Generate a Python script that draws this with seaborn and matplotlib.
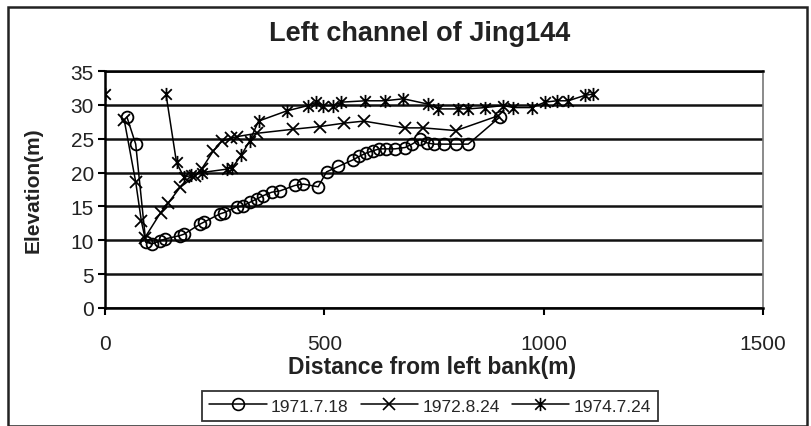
import numpy as np
import pandas as pd
import matplotlib
matplotlib.use("Agg")
import matplotlib.pyplot as plt
from matplotlib.path import Path
from matplotlib.lines import Line2D
from matplotlib.patches import Rectangle
import seaborn as sns

# ---------------- data ----------------
title = "Left channel of Jing144"
xlabel = "Distance from left bank(m)"
ylabel = "Elevation(m)"
series_names = ["1971.7.18", "1972.8.24", "1974.7.24"]

s1971_x = [50, 70, 93, 108, 125, 137, 171, 180, 217, 226, 262, 272, 300, 315, 330, 346, 361,
           380, 399, 433, 452, 486, 505, 532, 566, 580, 596, 610, 625, 640, 661, 684, 700,
           718, 733, 750, 772, 800, 828, 900]
s1971_y = [28.2, 24.2, 9.7, 9.5, 9.9, 10.2, 10.7, 10.9, 12.4, 12.7, 13.9, 14.1, 14.9, 15.1,
           15.6, 16.1, 16.6, 17.1, 17.3, 18.1, 18.3, 17.9, 20.1, 20.9, 21.9, 22.4, 22.9, 23.2,
           23.5, 23.5, 23.5, 23.7, 24.2, 24.9, 24.4, 24.2, 24.2, 24.2, 24.2, 28.2]

s1972_x = [44, 70, 83, 91, 127, 144, 171, 205, 220, 247, 266, 288, 300, 346, 429, 490, 545,
           590, 684, 726, 800, 897]
s1972_y = [27.7, 18.6, 12.8, 10.4, 14.1, 15.5, 17.8, 19.5, 20.5, 23.2, 24.6, 25.1, 25.3,
           25.8, 26.4, 26.8, 27.3, 27.6, 26.6, 26.6, 26.2, 28.4]

s1974_x = [0, np.nan, 139, 163, 180, 197, 220, 277, 290, 311, 330, 350, 414, 463, 482, 498,
           520, 539, 593, 638, 680, 737, 760, 805, 828, 866, 908, 931, 973, 1003, 1030, 1056,
           1094, 1113]
s1974_y = [31.6, np.nan, 31.6, 21.5, 19.3, 19.6, 20.0, 20.5, 20.7, 22.6, 24.7, 27.6, 29.1,
           29.9, 30.4, 29.9, 29.9, 30.4, 30.6, 30.6, 30.9, 30.1, 29.4, 29.4, 29.4, 29.6, 29.9,
           29.6, 29.6, 30.4, 30.6, 30.6, 31.4, 31.6]

x_ticks = [0, 500, 1000, 1500]
y_ticks = [0, 5, 10, 15, 20, 25, 30, 35]

# ---------------- style ----------------
sns.set_style("white")
plt.rcParams["font.family"] = ["Liberation Sans", "DejaVu Sans"]

W, H = 811, 427
fig = plt.figure(figsize=(W / 100, H / 100), dpi=100)
fig.patch.set_facecolor("white")
ax = fig.add_axes([105 / W, (H - 309) / H, 658 / W, 237 / H])

star = Path([(-1, -1), (1, 1), (-1, 1), (1, -1), (0, -1.25), (0, 1.25)],
            [Path.MOVETO, Path.LINETO, Path.MOVETO, Path.LINETO, Path.MOVETO, Path.LINETO])
markers = ["o", "x", star]
msizes = [8.5, 8.5, 9.5]


def make_df(xs, ys):
    df = pd.DataFrame({"x": xs, "y": ys})
    df["seg"] = df["x"].isna().cumsum()
    return df.dropna()


datasets = [make_df(s1971_x, s1971_y), make_df(s1972_x, s1972_y), make_df(s1974_x, s1974_y)]

for df, mk, ms in zip(datasets, markers, msizes):
    sns.lineplot(data=df, x="x", y="y", units="seg", estimator=None, sort=False,
                 color="black", lw=1.1, marker=mk, markersize=ms, mfc="none",
                 mec="black", mew=1.3, ax=ax, legend=False)

ax.set_xlim(0, 1500)
ax.set_ylim(0, 35)
ax.set_xticks(x_ticks)
ax.set_yticks(y_ticks)
ax.set_xticklabels([str(v) for v in x_ticks], fontsize=15, color="#222222")
ax.set_yticklabels([str(v) for v in y_ticks], fontsize=15, color="#222222")
ax.tick_params(axis="both", direction="out", length=5, width=1.5, color="black",
               left=True, bottom=True)
ax.tick_params(axis="x", pad=14)
ax.tick_params(axis="y", pad=3)
ax.set_xlabel("")
ax.set_ylabel("")
ax.yaxis.grid(True, color="#111111", lw=1.8)
ax.xaxis.grid(False)
ax.set_axisbelow(True)
for side in ["left", "bottom", "top"]:
    ax.spines[side].set_color("black")
    ax.spines[side].set_linewidth(1.8)
ax.spines["right"].set_color("#777777")
ax.spines["right"].set_linewidth(1.2)

fig.text(420 / W, 1 - 34 / H, title, ha="center", va="center", fontsize=19.5,
         fontweight="bold", color="#222222")
fig.text(432 / W, 1 - 368 / H, xlabel, ha="center", va="center", fontsize=16.5,
         fontweight="bold", color="#222222")
fig.text(33 / W, 1 - 190 / H, ylabel, ha="center", va="center", fontsize=15,
         fontweight="bold", rotation=90, color="#222222")

handles = [Line2D([], [], color="black", lw=1.1, marker=mk, markersize=ms, mfc="none",
                  mec="black", mew=1.2) for mk, ms in zip(markers, msizes)]
leg = fig.legend(handles, series_names, loc="center", bbox_to_anchor=(430 / W, 1 - 407 / H),
                 ncol=3, frameon=True, fancybox=False, edgecolor="black", handlelength=3.3,
                 handletextpad=0.25, columnspacing=0.7, borderpad=0.4,
                 prop={"family": ["Liberation Sans Narrow", "Liberation Sans"], "size": 12.5})
leg.get_frame().set_linewidth(1.3)

# chart area border
fig.patches.append(Rectangle((8 / W, 0), (W - 12) / W, (H - 8) / H, transform=fig.transFigure,
                             fill=False, edgecolor="#222222", lw=1.8))

fig.savefig("out.png", dpi=100)
